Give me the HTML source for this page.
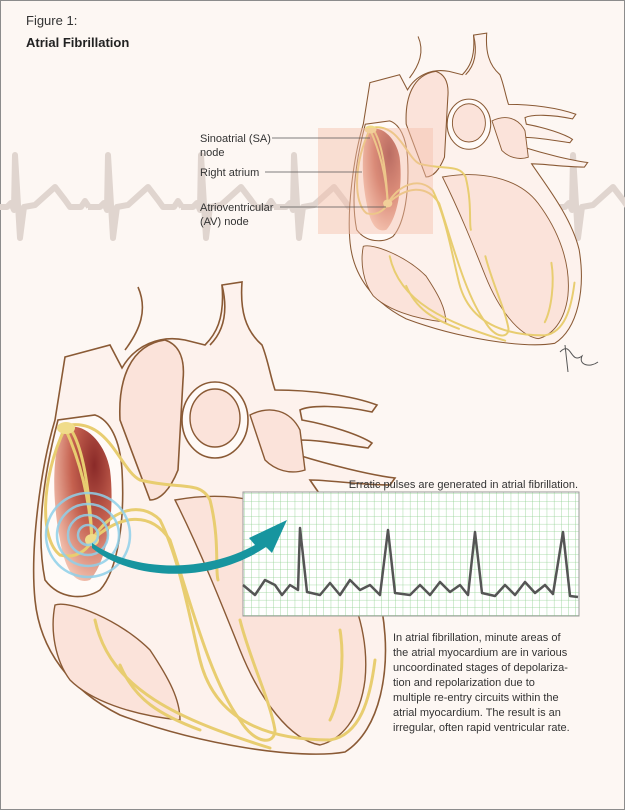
<!DOCTYPE html>
<html><head><style>
html,body{margin:0;padding:0;background:#fff}
svg{display:block}
text{font-family:"Liberation Sans",sans-serif}
</style></head><body>
<svg width="625" height="810" viewBox="0 0 625 810" xmlns="http://www.w3.org/2000/svg" xmlns:xlink="http://www.w3.org/1999/xlink">
<defs>
<radialGradient id="ra" cx="0.7" cy="0.25" r="0.8">
<stop offset="0" stop-color="#8a2a28"/><stop offset="0.5" stop-color="#c5614f"/><stop offset="1" stop-color="#f3c2b0"/>
</radialGradient>
<pattern id="g" width="7.2" height="7.6" patternUnits="userSpaceOnUse"><path d="M7.2,0 L7.2,7.6 M0,7.6 L7.2,7.6" stroke="#8fcf8f" stroke-width="0.8" fill="none"/></pattern>
<path id="beat" d="M-20,207 L-8,207 L-4,203 L-1,210 L0,155 L5,238 L9,207 L20,205 L40,187 L50,200 L55,207 L66,207 L70,201 L74,207 L73,207" fill="none" stroke="#e0d5cf" stroke-width="6" stroke-linejoin="round"/>
<g id="heart">
<path d="M65,357 L110,345 L122,368 C135,345 160,335 185,340 L205,345 C215,335 225,320 222,285 L242,282 C240,310 245,330 262,345 C268,360 270,375 275,390 C310,390 350,395 377,405 L372,412 C340,405 310,405 300,410 L302,420 C330,425 360,435 372,443 L368,448 C345,445 320,440 300,440 L298,455 C330,465 370,475 395,478 L390,485 C360,485 330,480 310,480 C330,510 370,560 382,610 C392,670 380,730 345,752 C300,760 200,745 120,715 C70,690 40,650 35,600 C30,550 40,470 55,420 Z" fill="#fdf2ed" stroke="#8a5a35" stroke-width="1.6"/>
<path d="M138,287 C148,310 140,330 125,350 M222,285 C228,310 225,330 210,345" fill="none" stroke="#8a5a35" stroke-width="1.6"/>
<path d="M58,420 C45,470 35,530 45,580 C60,600 85,600 100,590 C118,570 125,520 122,470 C120,440 110,420 95,415 Z" fill="#fffaf7" stroke="#8a5a35" stroke-width="1.6"/>
<path d="M62,430 C80,418 105,440 110,470 C115,510 108,560 90,580 C75,585 65,570 60,540 C52,500 52,455 62,430 Z" fill="url(#ra)"/>
<path d="M120,420 C118,380 130,345 165,340 C180,345 185,360 183,380 L178,470 C170,490 160,500 150,500 Z" fill="#fbe3da" stroke="#8a5a35" stroke-width="1.6"/>
<ellipse cx="215" cy="420" rx="33" ry="38" fill="#fffaf7" stroke="#8a5a35" stroke-width="1.6"/>
<ellipse cx="215" cy="418" rx="25" ry="29" fill="#fbe3da" stroke="#8a5a35" stroke-width="1.4"/>
<path d="M250,415 C270,405 290,410 300,430 L305,470 C290,475 275,470 265,460 Z" fill="#fbe3da" stroke="#8a5a35" stroke-width="1.4"/>
<path d="M55,605 C70,600 120,620 150,650 C170,680 180,700 180,720 C130,715 90,700 70,680 C55,660 50,630 55,605 Z" fill="#fbe3da" stroke="#8a5a35" stroke-width="1.4"/>
<path d="M175,500 C230,490 290,500 320,540 C350,580 370,630 365,680 C360,720 340,740 320,745 C290,740 260,700 240,650 C220,600 200,550 175,500 Z" fill="#fbe3da" stroke="#8a5a35" stroke-width="1.4"/>
<g stroke="#e8cd70" stroke-width="3" fill="none" stroke-linecap="round">
<path d="M65,428 C40,480 40,540 60,555 C80,560 90,545 92,540"/>
<path d="M65,428 C80,460 90,500 92,540"/>
<path d="M70,428 C85,450 90,500 92,540"/>
<path d="M70,425 C110,420 120,470 140,480 C180,490 200,480 210,500 C220,540 215,570 218,580"/>
<path d="M92,540 C110,510 140,500 160,520 C180,560 190,620 200,660 C210,700 240,740 330,740 C360,735 370,700 375,660"/>
<path d="M92,540 C120,515 150,510 170,540 C190,600 210,680 240,720 C255,745 275,745 275,730 C270,700 250,660 240,620"/>
<path d="M95,620 C110,690 180,720 270,748"/>
<path d="M120,665 C135,700 160,715 200,730"/>
<path d="M340,630 C345,660 340,700 330,720"/>
</g>
<ellipse cx="66" cy="428" rx="9" ry="6" fill="#f0dc8a"/>
<ellipse cx="92" cy="540" rx="7" ry="6" fill="#f0dc8a"/>
</g>
</defs>
<rect x="0.5" y="0.5" width="624" height="809" fill="#fdf7f3" stroke="#8c8c8c"/>
<text x="26" y="25" font-size="13" fill="#333">Figure 1:</text>
<text x="26" y="47" font-size="13" font-weight="bold" fill="#222">Atrial Fibrillation</text>
<use xlink:href="#beat" x="15"/><use xlink:href="#beat" x="108"/><use xlink:href="#beat" x="201"/><use xlink:href="#beat" x="294"/><use xlink:href="#beat" x="387"/><use xlink:href="#beat" x="480"/><use xlink:href="#beat" x="573"/>
<g transform="translate(327,-153) scale(0.66)"><use xlink:href="#heart"/></g>
<rect x="318" y="128" width="115" height="106" fill="#f5bfab" opacity="0.45"/>
<g fill="#333" font-size="11">
<text x="200" y="142">Sinoatrial (SA)</text><text x="200" y="156">node</text>
<text x="200" y="176">Right atrium</text>
<text x="200" y="211">Atrioventricular</text><text x="200" y="225">(AV) node</text>
</g>
<g stroke="#555" stroke-width="0.8"><line x1="272" y1="138" x2="370" y2="138"/><line x1="265" y1="172" x2="362" y2="172"/><line x1="280" y1="207" x2="386" y2="207"/></g>
<path d="M560,352 C572,340 570,365 582,356 C578,365 590,368 598,362 M565,345 L568,372" fill="none" stroke="#555"/>
<use xlink:href="#heart"/>
<g fill="none" stroke="#8fd0ea" stroke-width="2.5" opacity="0.85">
<circle cx="88" cy="535" r="10"/><circle cx="88" cy="535" r="20"/><circle cx="88" cy="535" r="31"/><circle cx="88" cy="535" r="42"/>
</g>
<text x="578" y="488" font-size="11" fill="#333" text-anchor="end">Erratic pulses are generated in atrial fibrillation.</text>
<rect x="243" y="492" width="336" height="124" fill="#fff"/>
<rect x="243" y="492" width="336" height="124" fill="url(#g)" stroke="#999"/>
<path d="M92,543 C130,570 200,575 255,545 L249,538 L287,520 L272,553 L266,547 C210,585 130,580 92,548 Z" fill="#17959f"/>
<path d="M243,585 L255,595 L265,580 L275,585 L282,595 L290,585 L298,590 L300,528 L307,592 L320,595 L330,583 L340,595 L350,580 L360,590 L370,585 L380,595 L388,530 L395,593 L410,595 L420,585 L430,595 L440,582 L450,592 L460,585 L468,595 L475,532 L482,593 L495,596 L505,585 L515,595 L525,582 L535,593 L545,585 L553,594 L563,532 L570,596 L578,597" fill="none" stroke="#555" stroke-width="2.5" stroke-linejoin="round"/>
<g font-size="11" fill="#333">
<text x="393" y="641">In atrial fibrillation, minute areas of</text>
<text x="393" y="656">the atrial myocardium are in various</text>
<text x="393" y="671">uncoordinated stages of depolariza-</text>
<text x="393" y="686">tion and repolarization due to</text>
<text x="393" y="701">multiple re-entry circuits within the</text>
<text x="393" y="716">atrial myocardium. The result is an</text>
<text x="393" y="731">irregular, often rapid ventricular rate.</text>
</g>
</svg>
</body></html>
